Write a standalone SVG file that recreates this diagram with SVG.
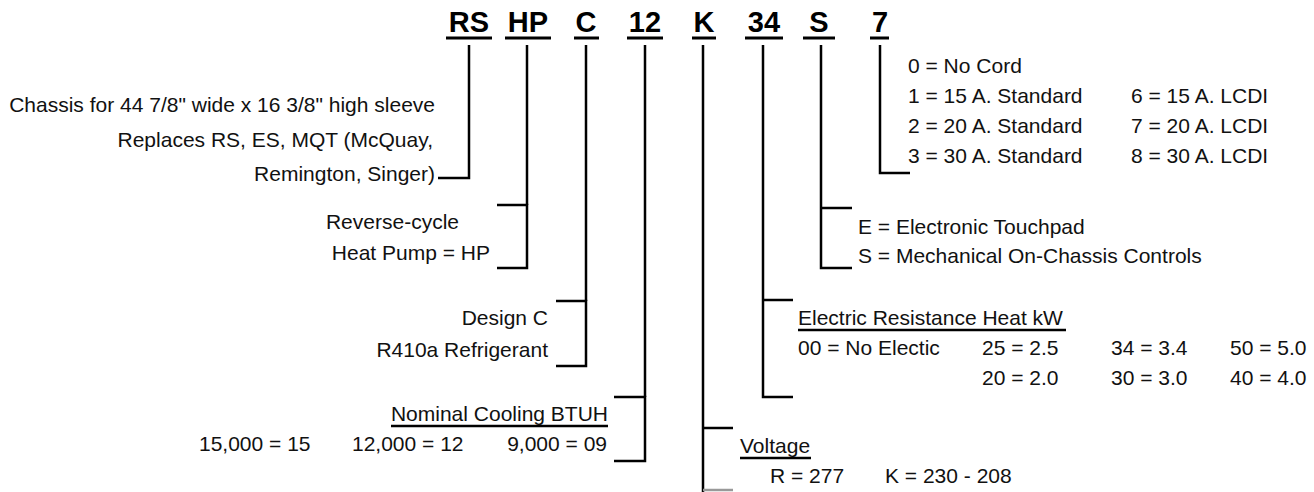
<svg xmlns="http://www.w3.org/2000/svg" width="1314" height="492" viewBox="0 0 1314 492">
<style>
text{font-family:"Liberation Sans",Arial,sans-serif;font-size:21px;fill:#111}
.t{font-weight:bold;font-size:29px;text-anchor:middle;fill:#000}
.r{text-anchor:end}
.ln{stroke:#000;stroke-width:2.5;fill:none}
.ul{stroke:#000;stroke-width:3}
.tu{stroke:#000;stroke-width:2.5}
</style>
<rect width="1314" height="492" fill="#fff"/>
<g id="title">
<text class="t" x="469" y="32">RS</text>
<text class="t" x="528" y="32">HP</text>
<text class="t" x="586" y="32">C</text>
<text class="t" x="645" y="32">12</text>
<text class="t" x="704" y="32">K</text>
<text class="t" x="764" y="32">34</text>
<text class="t" x="819" y="32">S</text>
<text class="t" x="880" y="32">7</text>
<line class="ul" x1="446" y1="38" x2="492" y2="38"/>
<line class="ul" x1="505" y1="38" x2="551" y2="38"/>
<line class="ul" x1="574" y1="38" x2="599" y2="38"/>
<line class="ul" x1="627" y1="38" x2="663" y2="38"/>
<line class="ul" x1="692" y1="38" x2="716" y2="38"/>
<line class="ul" x1="745" y1="38" x2="783" y2="38"/>
<line class="ul" x1="803" y1="38" x2="835" y2="38"/>
<line class="ul" x1="870" y1="38" x2="889" y2="38"/>
</g>
<g id="connectors">
<polyline class="ln" points="469,45 469,178 438,178"/>
<polyline class="ln" points="497,205 527,205 527,268 497,268"/>
<line class="ln" x1="527" y1="45" x2="527" y2="205"/>
<polyline class="ln" points="556,301 586,301 586,366 556,366"/>
<line class="ln" x1="586" y1="45" x2="586" y2="301"/>
<polyline class="ln" points="614,397 645,397 645,461 614,461"/>
<line class="ln" x1="645" y1="45" x2="645" y2="397"/>
<line class="ln" x1="703" y1="45" x2="703" y2="492"/>
<line class="ln" x1="703" y1="428" x2="733" y2="428"/>
<line x1="703" y1="490" x2="733" y2="490" stroke="#999" stroke-width="2.5"/>
<polyline class="ln" points="763,45 763,397 793,397"/>
<line class="ln" x1="763" y1="300" x2="793" y2="300"/>
<polyline class="ln" points="821,45 821,268 852,268"/>
<line class="ln" x1="821" y1="208" x2="852" y2="208"/>
<polyline class="ln" points="880,45 880,173 910,173"/>
</g>
<g id="rs">
<text class="r" x="435" y="112">Chassis for 44 7/8" wide x 16 3/8" high sleeve</text>
<text class="r" x="433" y="147">Replaces RS, ES, MQT (McQuay,</text>
<text class="r" x="435" y="181">Remington, Singer)</text>
</g>
<g id="hp">
<text class="r" x="459" y="229">Reverse-cycle</text>
<text class="r" x="490" y="260">Heat Pump = HP</text>
</g>
<g id="c">
<text class="r" x="548" y="325">Design C</text>
<text class="r" x="548" y="357">R410a Refrigerant</text>
</g>
<g id="n12">
<text class="r" x="608" y="421">Nominal Cooling BTUH</text>
<line class="tu" x1="391" y1="426" x2="608" y2="426"/>
<text x="199" y="451">15,000 = 15</text>
<text x="352" y="451">12,000 = 12</text>
<text class="r" x="607" y="451">9,000 = 09</text>
</g>
<g id="k">
<text x="740" y="453">Voltage</text>
<line class="tu" x1="740" y1="458" x2="811" y2="458"/>
<text x="770" y="483">R = 277</text>
<text x="885" y="483">K = 230 - 208</text>
</g>
<g id="n34">
<text x="798" y="325">Electric Resistance Heat kW</text>
<line class="tu" x1="798" y1="330" x2="1066" y2="330"/>
<text x="798" y="355">00 = No Electic</text>
<text x="982" y="355">25 = 2.5</text>
<text x="1111" y="355">34 = 3.4</text>
<text x="1230" y="355">50 = 5.0</text>
<text x="982" y="385">20 = 2.0</text>
<text x="1111" y="385">30 = 3.0</text>
<text x="1230" y="385">40 = 4.0</text>
</g>
<g id="s">
<text x="858" y="234">E = Electronic Touchpad</text>
<text x="858" y="263">S = Mechanical On-Chassis Controls</text>
</g>
<g id="n7">
<text x="908" y="73">0 = No Cord</text>
<text x="908" y="103">1 = 15 A. Standard</text>
<text x="908" y="133">2 = 20 A. Standard</text>
<text x="908" y="163">3 = 30 A. Standard</text>
<text x="1131" y="103">6 = 15 A. LCDI</text>
<text x="1131" y="133">7 = 20 A. LCDI</text>
<text x="1131" y="163">8 = 30 A. LCDI</text>
</g>
</svg>
